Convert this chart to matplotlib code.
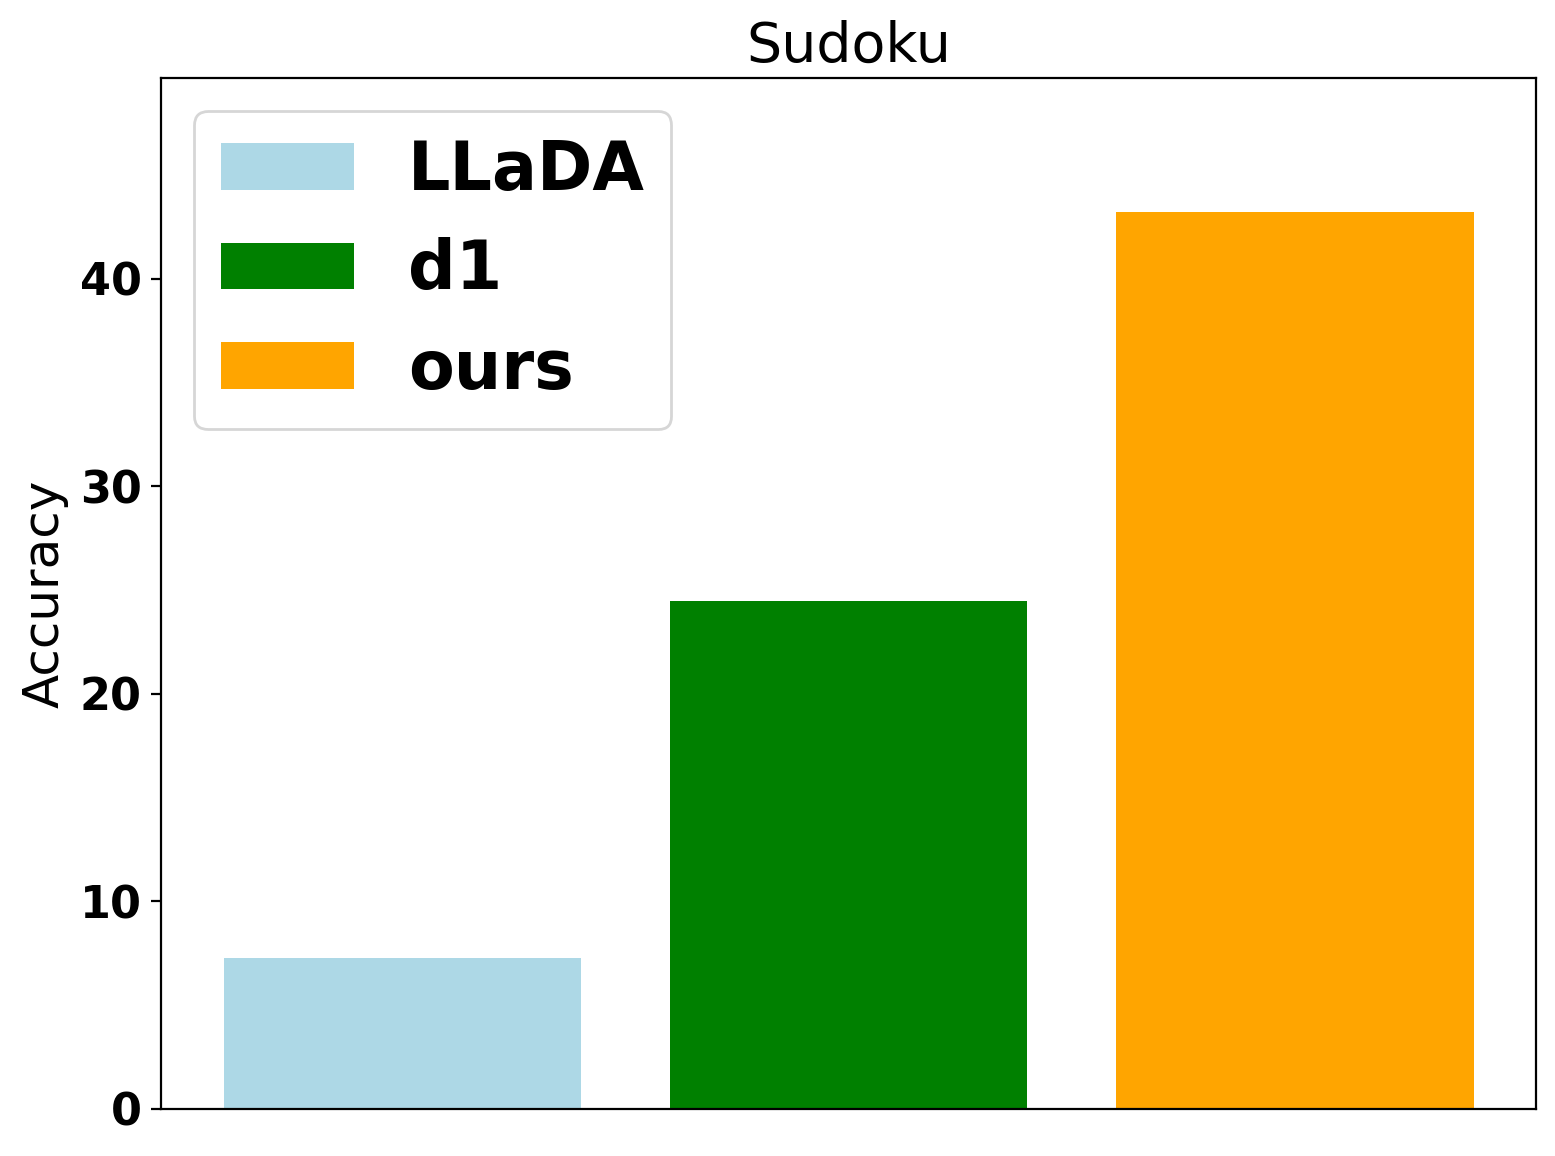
import matplotlib
matplotlib.use("Agg")
import matplotlib.pyplot as plt

# values
models = ["LLaDA", "d1", "ours"]
accuracy = [7.3, 24.5, 43.2]
colors = ["lightblue", "green", "orange"]

fig = plt.figure(figsize=(7.775, 5.78), dpi=200)
ax = fig.add_axes([161 / 1555, 1 - 1109 / 1156, (1536 - 161) / 1555, (1109 - 78) / 1156])

x = range(len(models))
for i, (name, val, c) in enumerate(zip(models, accuracy, colors)):
    ax.bar(i, val, width=0.8, color=c, label=name)

ax.set_ylim(0, max(accuracy) * 1.15)
ax.set_xticks([])
ax.set_ylabel("Accuracy", fontsize=18)
ax.set_title("Sudoku", fontsize=20)
for lab in ax.get_yticklabels():
    lab.set_fontsize(16)
    lab.set_fontweight("bold")

ax.legend(loc="upper left", prop={"size": 24, "weight": "bold"})

fig.savefig("out.png", dpi=200)
